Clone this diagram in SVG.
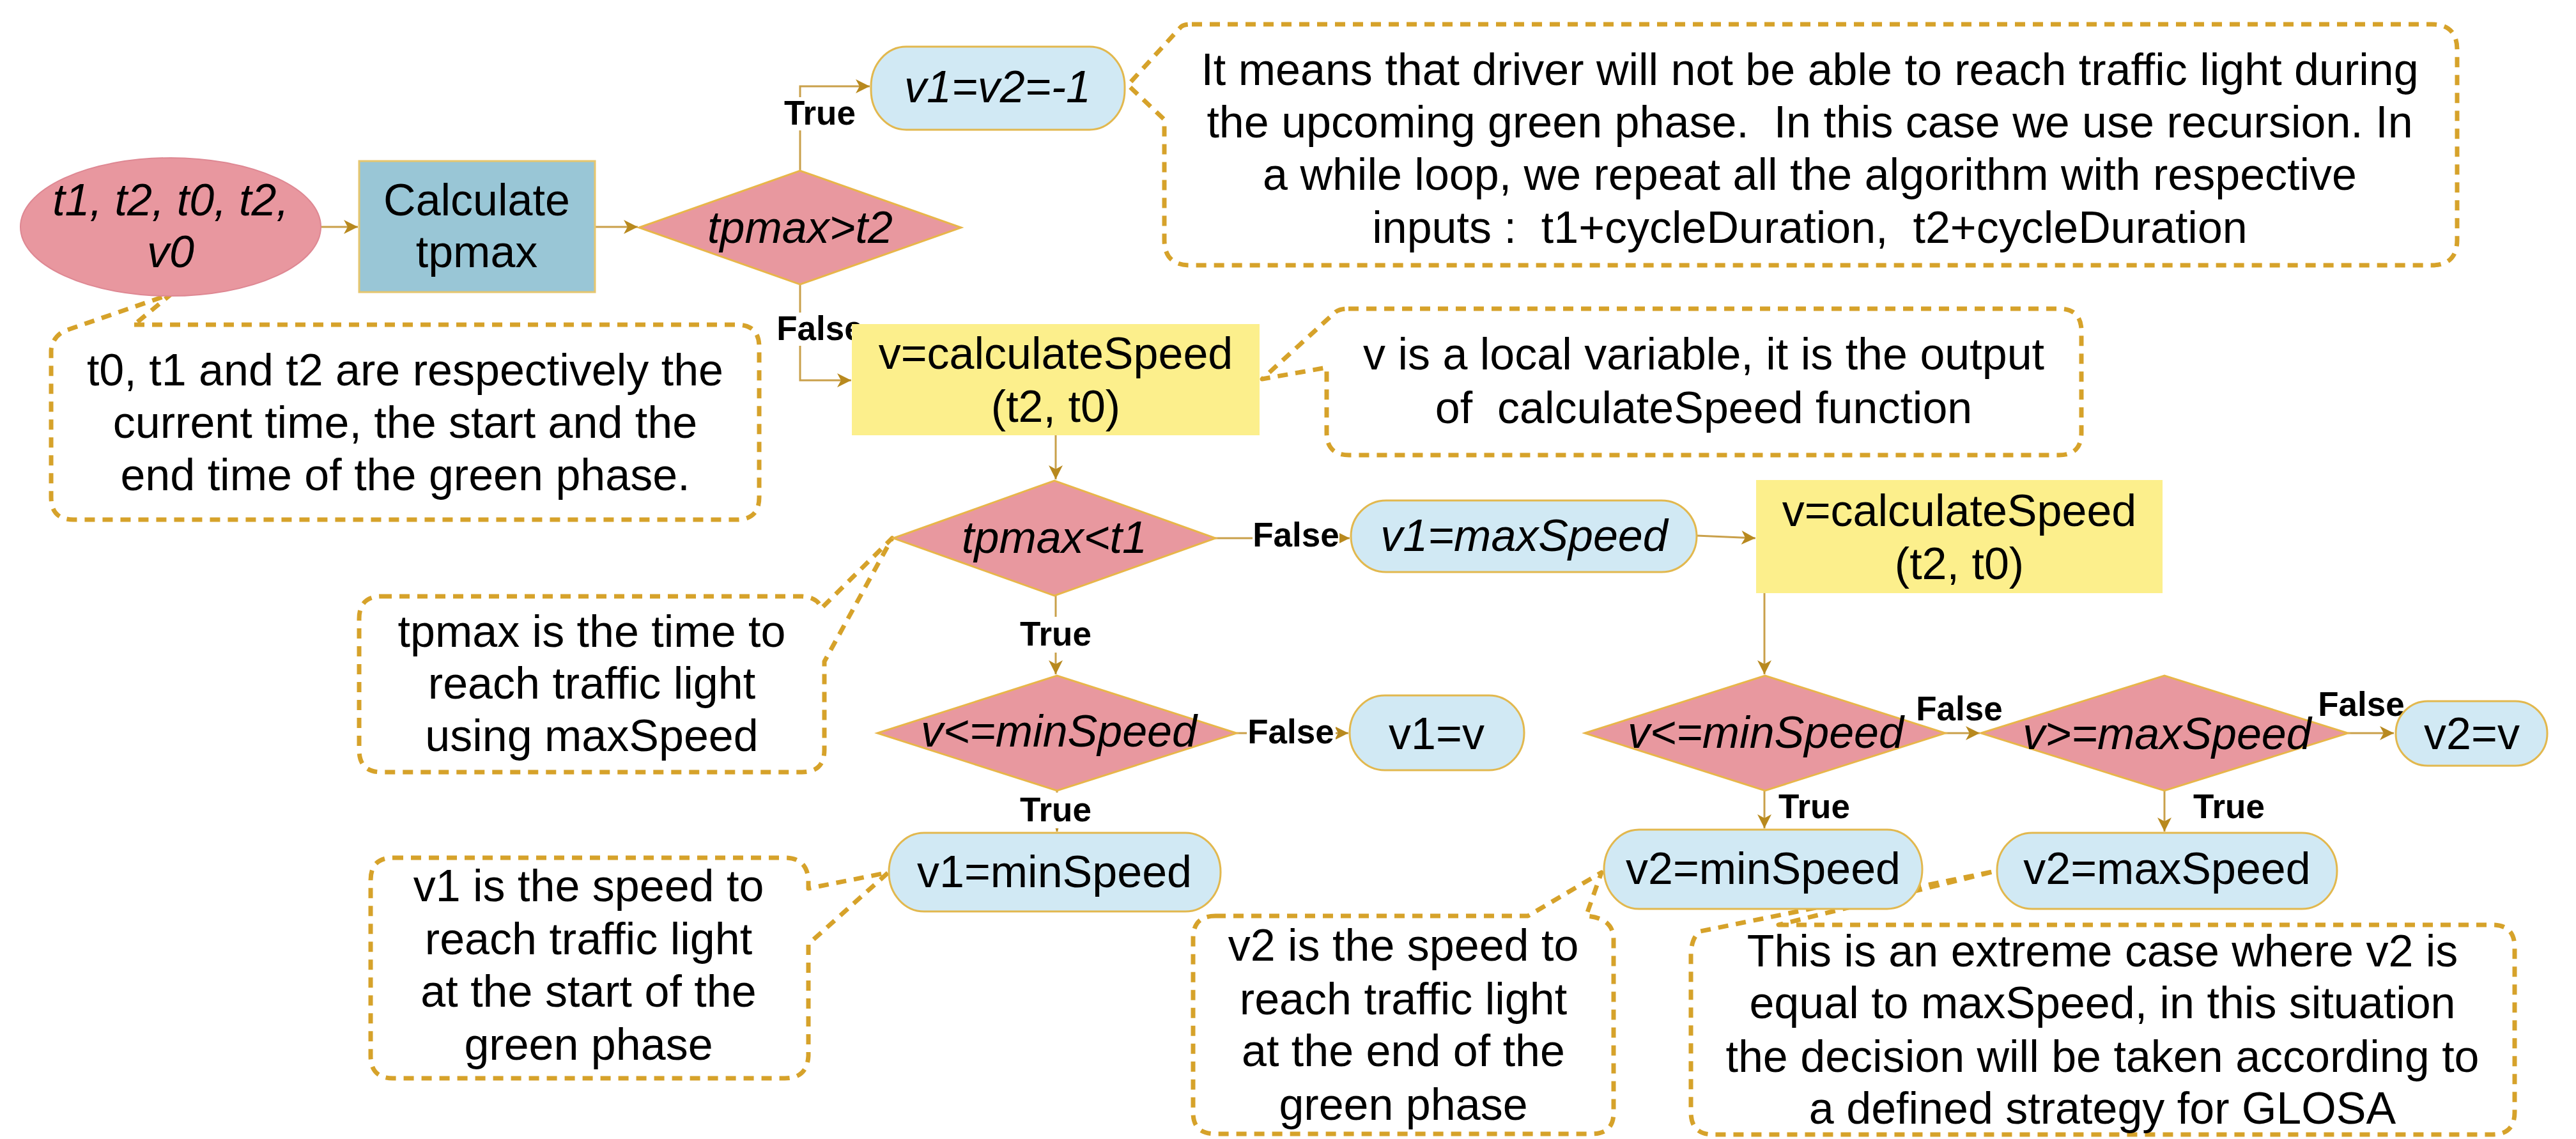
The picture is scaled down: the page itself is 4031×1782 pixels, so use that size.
<svg xmlns="http://www.w3.org/2000/svg" width="4031" height="1782" viewBox="0 0 4031 1782">
<defs>
<style>
text{font-family:"Liberation Sans",Arial,sans-serif;fill:#000;white-space:pre;}
.t{font-size:70px;text-anchor:middle;}
.i{font-style:italic;}
.lbl{font-size:53px;font-weight:bold;text-anchor:middle;}
.note{fill:#fff;stroke:#D6A22A;stroke-width:7;stroke-dasharray:16 12;stroke-linejoin:round;}
.dia{fill:#E8989F;stroke:#E8B64A;stroke-width:3;}
.term{fill:#D1E9F4;stroke:#E2B84E;stroke-width:3;}
.proc{fill:#FCEF8C;stroke:#FCEF8C;stroke-width:2;}
.edge{fill:none;stroke:#C9A04A;stroke-width:3;}
.bg{fill:#fff;}
</style>
<marker id="arr" markerUnits="userSpaceOnUse" markerWidth="24" markerHeight="24" refX="22" refY="11" orient="auto">
<path d="M0,0 L22,11 L0,22 L6,11 Z" fill="#B8891E"/>
</marker>
</defs>
<rect width="4031" height="1782" fill="#fff"/>

<g id="notes">
<g id="note-recursion">
<path class="note" d="M1865,38 H3805 Q3845,38 3845,78 V375 Q3845,415 3805,415 H1862 Q1822,415 1822,375 V187 L1765,133 L1848,42 Q1853,38 1865,38 Z"/>
<text class="t" x="2832" y="133">It means that driver will not be able to reach traffic light during</text>
<text class="t" x="2832" y="215" xml:space="preserve">the upcoming green phase.  In this case we use recursion. In</text>
<text class="t" x="2832" y="297">a while loop, we repeat all the algorithm with respective</text>
<text class="t" x="2832" y="380" xml:space="preserve">inputs :  t1+cycleDuration,  t2+cycleDuration</text>
</g>
<g id="note-times">
<path class="note" d="M210,508 H1153 Q1188,508 1188,543 V778 Q1188,813 1153,813 H115 Q80,813 80,778 V548 Q82,528 100,518 L268,460 Z"/>
<text class="t" x="634" y="603">t0, t1 and t2 are respectively the</text>
<text class="t" x="634" y="685">current time, the start and the</text>
<text class="t" x="634" y="767">end time of the green phase.</text>
</g>
<g id="note-local">
<path class="note" d="M2110,483 H3222 Q3257,483 3257,518 V677 Q3257,712 3222,712 H2111 Q2076,712 2076,677 V575 L1975,593 L2090,488 Q2097,483 2110,483 Z"/>
<text class="t" x="2666" y="578">v is a local variable, it is the output</text>
<text class="t" x="2666" y="662" xml:space="preserve">of  calculateSpeed function</text>
</g>
<g id="note-tpmax">
<path class="note" d="M597,933 H1255 Q1281,935 1285,952 L1396,842 L1290,1035 V1173 Q1290,1208 1255,1208 H597 Q562,1208 562,1173 V968 Q562,933 597,933 Z"/>
<text class="t" x="926" y="1012">tpmax is the time to</text>
<text class="t" x="926" y="1093">reach traffic light</text>
<text class="t" x="926" y="1175">using maxSpeed</text>
</g>
<g id="note-v1">
<path class="note" d="M615,1342 H1228 Q1263,1342 1265,1377 V1390 L1390,1365 L1265,1477 V1652 Q1263,1687 1228,1687 H615 Q580,1687 580,1652 V1377 Q580,1342 615,1342 Z"/>
<text class="t" x="921" y="1410">v1 is the speed to</text>
<text class="t" x="921" y="1493">reach traffic light</text>
<text class="t" x="921" y="1575">at the start of the</text>
<text class="t" x="921" y="1658">green phase</text>
</g>
<g id="note-v2">
<path class="note" d="M1902,1433 H2391 L2506,1365 L2482,1433 Q2525,1436 2525,1470 V1741 Q2525,1774 2490,1774 H1902 Q1867,1774 1867,1741 V1468 Q1867,1433 1902,1433 Z"/>
<text class="t" x="2196" y="1503">v2 is the speed to</text>
<text class="t" x="2196" y="1587">reach traffic light</text>
<text class="t" x="2196" y="1668">at the end of the</text>
<text class="t" x="2196" y="1752">green phase</text>
</g>
<g id="note-glosa">
<path class="note" d="M2783,1447 H3900 Q3935,1447 3935,1482 V1740 Q3935,1775 3900,1775 H2681 Q2646,1775 2646,1740 V1490 Q2648,1465 2661,1457 L3122,1363 Z"/>
<text class="t" x="3290" y="1512">This is an extreme case where v2 is</text>
<text class="t" x="3290" y="1593">equal to maxSpeed, in this situation</text>
<text class="t" x="3290" y="1677">the decision will be taken according to</text>
<text class="t" x="3290" y="1758">a defined strategy for GLOSA</text>
</g>
</g>

<g id="connectors">
<path class="edge" d="M500,355 H560" marker-end="url(#arr)"/>
<path class="edge" d="M931,355 H998" marker-end="url(#arr)"/>
<path class="edge" d="M1252,267 V135 H1361" marker-end="url(#arr)"/>
<path class="edge" d="M1252,445 V595 H1332" marker-end="url(#arr)"/>
<path class="edge" d="M1652,680 V750" marker-end="url(#arr)"/>
<path class="edge" d="M1900,842 H2112" marker-end="url(#arr)"/>
<path class="edge" d="M2655,838 L2747,842" marker-end="url(#arr)"/>
<path class="edge" d="M1652,932 V1055" marker-end="url(#arr)"/>
<path class="edge" d="M1935,1147 H2110" marker-end="url(#arr)"/>
<path class="edge" d="M1654,1237 V1301" marker-end="url(#arr)"/>
<path class="edge" d="M2761,927 V1055" marker-end="url(#arr)"/>
<path class="edge" d="M3044,1147 H3098" marker-end="url(#arr)"/>
<path class="edge" d="M2761,1237 V1296" marker-end="url(#arr)"/>
<path class="edge" d="M3674,1147 H3746" marker-end="url(#arr)"/>
<path class="edge" d="M3387,1237 V1301" marker-end="url(#arr)"/>
<rect class="bg" x="1226" y="152" width="114" height="52"/>
<text class="lbl" x="1283" y="195">True</text>
<rect class="bg" x="1214" y="489" width="139" height="52"/>
<text class="lbl" x="1283" y="532">False</text>
<rect class="bg" x="1960" y="812" width="136" height="52"/>
<text class="lbl" x="2028" y="855">False</text>
<rect class="bg" x="1595" y="965" width="114" height="56"/>
<text class="lbl" x="1652" y="1010">True</text>
<rect class="bg" x="1951" y="1120" width="139" height="52"/>
<text class="lbl" x="2020" y="1163">False</text>
<rect class="bg" x="1595" y="1240" width="114" height="56"/>
<text class="lbl" x="1652" y="1285">True</text>
<text class="lbl" x="3066" y="1127">False</text>
<text class="lbl" x="2839" y="1280">True</text>
<text class="lbl" x="3695" y="1120">False</text>
<text class="lbl" x="3488" y="1280">True</text>
</g>

<g id="start">
<ellipse cx="267" cy="355" rx="235" ry="108" fill="#E8979F" stroke="#DE8893" stroke-width="2"/>
<text class="t i" x="267" y="337">t1, t2, t0, t2,</text>
<text class="t i" x="267" y="418">v0</text>
</g>
<g id="calc-tpmax">
<rect x="562" y="252" width="369" height="205" fill="#99C6D6" stroke="#E6C66E" stroke-width="3"/>
<text class="t" x="746" y="337">Calculate</text>
<text class="t" x="746" y="418">tpmax</text>
</g>
<g id="dec-tpmax-t2">
<polygon class="dia" points="1000,356 1252,267 1504,356 1252,445"/>
<text class="t i" x="1252" y="380">tpmax&gt;t2</text>
</g>
<g id="v1v2-neg">
<rect class="term" x="1363" y="73" width="397" height="130" rx="55" ry="62"/>
<text class="t i" x="1561" y="160">v1=v2=-1</text>
</g>
<g id="calc-speed-1">
<rect class="proc" x="1334" y="508" width="636" height="172"/>
<text class="t" x="1652" y="577">v=calculateSpeed</text>
<text class="t" x="1652" y="660">(t2, t0)</text>
</g>
<g id="dec-tpmax-t1">
<polygon class="dia" points="1398,842 1650,752 1902,842 1650,932"/>
<text class="t i" x="1650" y="865">tpmax&lt;t1</text>
</g>
<g id="v1-max">
<rect class="term" x="2114" y="783" width="541" height="112" rx="55" ry="56"/>
<text class="t i" x="2385" y="862">v1=maxSpeed</text>
</g>
<g id="calc-speed-2">
<rect class="proc" x="2749" y="752" width="634" height="175"/>
<text class="t" x="3066" y="823">v=calculateSpeed</text>
<text class="t" x="3066" y="906">(t2, t0)</text>
</g>
<g id="dec-v1-min">
<polygon class="dia" points="1373,1147 1654,1057 1935,1147 1654,1237"/>
<text class="t i" x="1657" y="1168">v&lt;=minSpeed</text>
</g>
<g id="v1-v">
<rect class="term" x="2112" y="1088" width="273" height="117" rx="55" ry="58"/>
<text class="t" x="2248" y="1172">v1=v</text>
</g>
<g id="v1-min">
<rect class="term" x="1391" y="1303" width="519" height="123" rx="55" ry="61"/>
<text class="t" x="1650" y="1388">v1=minSpeed</text>
</g>
<g id="dec-v2-min">
<polygon class="dia" points="2480,1147 2762,1057 3044,1147 2762,1237"/>
<text class="t i" x="2763" y="1170">v&lt;=minSpeed</text>
</g>
<g id="dec-v2-max">
<polygon class="dia" points="3100,1147 3387,1057 3674,1147 3387,1237"/>
<text class="t i" x="3391" y="1172">v&gt;=maxSpeed</text>
</g>
<g id="v2-v">
<rect class="term" x="3749" y="1097" width="237" height="101" rx="50" ry="50"/>
<text class="t" x="3868" y="1172">v2=v</text>
</g>
<g id="v2-min">
<rect class="term" x="2510" y="1298" width="498" height="124" rx="55" ry="62"/>
<text class="t" x="2759" y="1383">v2=minSpeed</text>
</g>
<g id="v2-max">
<rect class="term" x="3125" y="1303" width="532" height="119" rx="55" ry="59"/>
<text class="t" x="3391" y="1383">v2=maxSpeed</text>
</g>
</svg>
